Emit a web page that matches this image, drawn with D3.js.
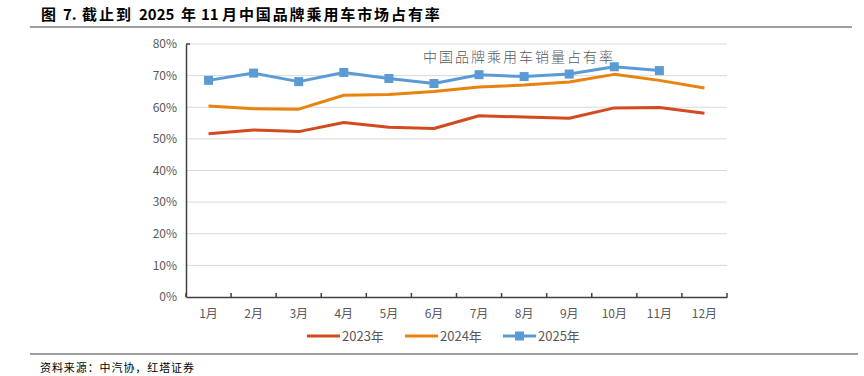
<!DOCTYPE html>
<html>
<head>
<meta charset="utf-8">
<script src="https://cdn.jsdelivr.net/npm/d3@7"></script>
<style>
  body { margin: 0; background: #fff; }
  svg { display: block; }
</style>
</head>
<body>
<svg width="864" height="376"></svg>
<script>
// data
var months = ["1月","2月","3月","4月","5月","6月","7月","8月","9月","10月","11月","12月"];
var share2023 = [51.6, 52.8, 52.3, 55.2, 53.7, 53.3, 57.3, 56.9, 56.5, 59.8, 59.9, 58.1];
var share2024 = [60.4, 59.5, 59.4, 63.8, 64.0, 65.0, 66.4, 67.0, 68.0, 70.4, 68.5, 66.1];
var share2025 = [68.5, 70.8, 68.1, 71.0, 69.1, 67.5, 70.3, 69.7, 70.5, 72.8, 71.6];
var yTicks = [0, 10, 20, 30, 40, 50, 60, 70, 80];

var series = [
  {name: "2023年", values: share2023, color: "#d24a1e", marker: false},
  {name: "2024年", values: share2024, color: "#e8830f", marker: false},
  {name: "2025年", values: share2025, color: "#5b9bd5", marker: true}
];

var svg = d3.select("svg");
var labelFont = "'Liberation Sans Narrow', 'Noto Sans CJK SC', sans-serif";

// header: mixed latin / CJK pieces, CJK pieces are spaced out
var titleParts = [
  {t: "图", x: 41, ls: 0},
  {t: "7.", x: 63, ls: 0},
  {t: "截止到", x: 82, ls: 2},
  {t: "2025", x: 139, ls: 0},
  {t: "年", x: 181, ls: 0},
  {t: "11", x: 201, ls: 0},
  {t: "月中国品牌乘用车市场占有率", x: 222, ls: 1.9}
];
svg.append("text")
    .attr("y", 20)
    .attr("font-family", "'Noto Sans CJK SC', sans-serif")
    .attr("font-weight", "bold")
    .attr("font-size", 15)
    .attr("fill", "#000")
  .selectAll("tspan")
  .data(titleParts)
  .enter().append("tspan")
    .attr("x", function(d) { return d.x; })
    .attr("letter-spacing", function(d) { return d.ls; })
    .text(function(d) { return d.t; });

svg.append("line")
    .attr("x1", 30).attr("x2", 852)
    .attr("y1", 27).attr("y2", 27)
    .attr("stroke", "#7f7f7f")
    .attr("stroke-width", 1.5);

svg.append("line")
    .attr("x1", 30).attr("x2", 858)
    .attr("y1", 354).attr("y2", 354)
    .attr("stroke", "#7f7f7f")
    .attr("stroke-width", 1.5);

svg.append("text")
    .attr("x", 40)
    .attr("y", 372)
    .attr("font-family", "'Noto Sans CJK SC', sans-serif")
    .attr("font-size", 11)
    .attr("fill", "#000")
    .attr("textLength", 154)
    .attr("lengthAdjust", "spacing")
    .text("资料来源：中汽协，红塔证券");

// scales
var x = d3.scaleBand()
    .domain(months)
    .range([186, 727]);

var y = d3.scaleLinear()
    .domain([0, 80])
    .range([297, 44]);

// gridlines
svg.append("g")
    .selectAll("line")
    .data(yTicks.slice(1))
    .enter().append("line")
      .attr("x1", 186).attr("x2", 727)
      .attr("y1", function(d) { return y(d); })
      .attr("y2", function(d) { return y(d); })
      .attr("stroke", "#d9d9d9")
      .attr("stroke-width", 1);

// y axis
var yAxis = svg.append("g")
    .attr("transform", "translate(186,0)")
    .call(d3.axisLeft(y)
      .tickValues(yTicks)
      .tickSize(0)
      .tickPadding(9)
      .tickFormat(function(d) { return d + "%"; }));
yAxis.select(".domain").attr("stroke", "#404040").attr("stroke-width", 1.5);
yAxis.selectAll("text")
    .attr("font-family", labelFont)
    .attr("font-size", 12)
    .attr("fill", "#595959");
yAxis.append("line")
    .attr("x1", 0).attr("x2", 4)
    .attr("y1", y(80)).attr("y2", y(80))
    .attr("stroke", "#404040").attr("stroke-width", 1.5);

// x axis
var xAxis = svg.append("g")
    .attr("transform", "translate(0,297)")
    .call(d3.axisBottom(x).tickSize(0).tickPadding(12));
xAxis.select(".domain").attr("stroke", "#404040").attr("stroke-width", 1.5);
xAxis.selectAll("text")
    .attr("font-family", labelFont)
    .attr("font-size", 12)
    .attr("fill", "#595959");
xAxis.selectAll(".sep")
    .data(d3.range(months.length + 1))
    .enter().append("line")
      .attr("class", "sep")
      .attr("x1", function(i) { return 186 + i * x.step(); })
      .attr("x2", function(i) { return 186 + i * x.step(); })
      .attr("y1", 0).attr("y2", -4)
      .attr("stroke", "#404040").attr("stroke-width", 1.5);

// lines
var line = d3.line()
    .x(function(d, i) { return x(months[i]) + x.bandwidth() / 2; })
    .y(function(d) { return y(d); });

series.forEach(function(s) {
  svg.append("path")
      .datum(s.values)
      .attr("fill", "none")
      .attr("stroke", s.color)
      .attr("stroke-width", 3)
      .attr("stroke-linejoin", "round")
      .attr("d", line);
  if (s.marker) {
    svg.append("g")
      .selectAll("rect")
      .data(s.values)
      .enter().append("rect")
        .attr("x", function(d, i) { return x(months[i]) + x.bandwidth() / 2 - 4.5; })
        .attr("y", function(d) { return y(d) - 4.5; })
        .attr("width", 9)
        .attr("height", 9)
        .attr("fill", s.color);
  }
});

// inner title
svg.append("text")
    .attr("x", 423)
    .attr("y", 62)
    .attr("font-family", "'Noto Sans CJK SC', sans-serif")
    .attr("font-weight", 300)
    .attr("font-size", 14)
    .attr("letter-spacing", 2)
    .attr("fill", "#595959")
    .text("中国品牌乘用车销量占有率");

// legend
var legendX = [307, 405, 503];
var lg = svg.append("g")
  .selectAll("g")
  .data(series)
  .enter().append("g")
    .attr("transform", function(d, i) { return "translate(" + legendX[i] + ",336)"; });
lg.append("line")
    .attr("x1", 0).attr("x2", 33)
    .attr("stroke", function(d) { return d.color; })
    .attr("stroke-width", 3);
lg.filter(function(d) { return d.marker; })
  .append("rect")
    .attr("x", 12).attr("y", -4.5)
    .attr("width", 9).attr("height", 9)
    .attr("fill", function(d) { return d.color; });
lg.append("text")
    .attr("x", 35)
    .attr("y", 4.5)
    .attr("font-family", labelFont)
    .attr("font-size", 13)
    .attr("fill", "#595959")
    .text(function(d) { return d.name; });
</script>
</body>
</html>
